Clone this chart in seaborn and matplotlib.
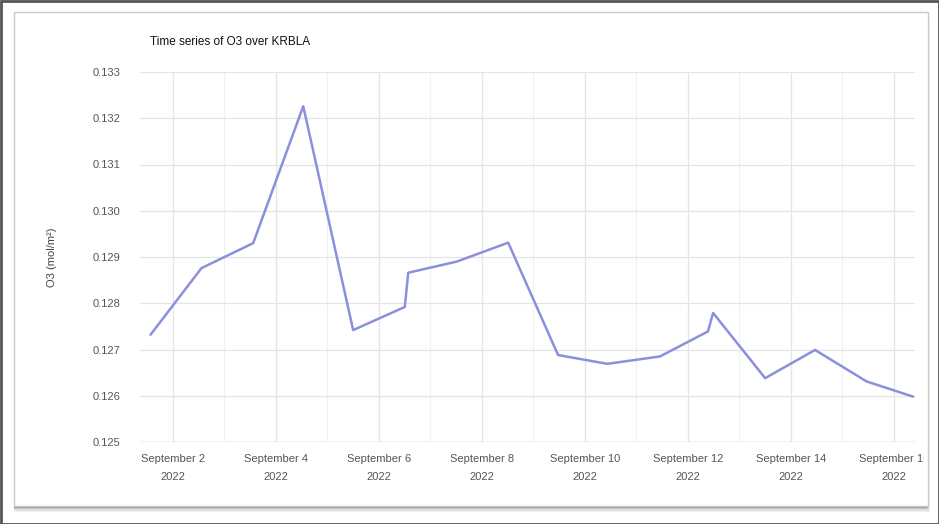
import pandas as pd
import seaborn as sns
import matplotlib.pyplot as plt
import matplotlib.dates as mdates
from matplotlib.ticker import FuncFormatter, MultipleLocator
from matplotlib.patches import Rectangle, FancyBboxPatch
from matplotlib.transforms import Bbox, TransformedBbox

# O3 column over KRBLA, one value per overpass (two on Sept 6 and Sept 12)
times = ['2022-09-01 13:35', '2022-09-02 13:20', '2022-09-03 13:25', '2022-09-04 12:45',
         '2022-09-05 12:00', '2022-09-06 12:05', '2022-09-06 13:40', '2022-09-07 12:15',
         '2022-09-08 12:15', '2022-09-09 11:30', '2022-09-10 10:30', '2022-09-11 11:00',
         '2022-09-12 09:20', '2022-09-12 11:45', '2022-09-13 12:00', '2022-09-14 11:15',
         '2022-09-15 11:15', '2022-09-16 09:00']
o3 = [0.12732, 0.12876, 0.12930, 0.13226,
      0.12742, 0.12792, 0.12866, 0.12890,
      0.12931, 0.12688, 0.12669, 0.12685,
      0.12739, 0.12779, 0.12638, 0.12699,
      0.12631, 0.12598]
title = 'Time series of O3 over KRBLA'
ylabel = 'O3 (mol/m²)'

df = pd.DataFrame({'time': pd.to_datetime(times), 'o3': o3})

sns.set_style('white')
plt.rcParams['font.family'] = ['Liberation Sans', 'DejaVu Sans']

W, H = 939, 524
fig = plt.figure(figsize=(W / 100, H / 100), dpi=100)
fig.patch.set_facecolor('white')

# screenshot frame + card with a soft shadow
for i, a in enumerate([0.05, 0.08, 0.12, 0.18]):
    fig.patches.append(FancyBboxPatch((14 / W, (H - 512 + i * 1.5) / H), (916 - i) / W, 494 / H,
                                      boxstyle='square,pad=0', transform=fig.transFigure,
                                      facecolor='black', alpha=a, edgecolor='none', zorder=0))
fig.patches.append(Rectangle((14 / W, (H - 506) / H), 914 / W, 494 / H, transform=fig.transFigure,
                             facecolor='white', edgecolor='#c8c8c8', lw=1, zorder=1))
fig.patches.append(Rectangle((0.5 / W, 0.5 / H), (W - 1) / W, (H - 1) / H, transform=fig.transFigure,
                             facecolor='none', edgecolor='#555555', lw=2, zorder=5))

ax = fig.add_axes([140 / W, (H - 442) / H, (915 - 140) / W, (442 - 72) / H])
ax.set_facecolor('none')
ax.set_zorder(3)

sns.lineplot(data=df, x='time', y='o3', ax=ax, color='#8a90dc', lw=1.8)

ax.set_ylim(0.125, 0.133)
ax.set_xlim(pd.Timestamp('2022-09-01 08:40'), pd.Timestamp('2022-09-16 09:50'))
ax.yaxis.set_major_locator(MultipleLocator(0.001))
ax.yaxis.set_major_formatter(FuncFormatter(lambda v, p: f'{v:.3f}'))
ax.xaxis.set_major_locator(mdates.DayLocator(bymonthday=list(range(2, 31, 2))))
ax.xaxis.set_minor_locator(mdates.DayLocator())


def fmt_date(x, pos):
    d = mdates.num2date(x)
    return f'{d:%B} {d.day}\n{d.year}'


ax.xaxis.set_major_formatter(FuncFormatter(fmt_date))

ax.grid(True, which='major', color='#e4e4e4', lw=0.9)
ax.grid(True, which='minor', axis='x', color='#f1f1f1', lw=0.8)
ax.axhline(0.125, color='#cccccc', lw=1, zorder=1)
for s in ax.spines.values():
    s.set_visible(False)

ax.tick_params(axis='both', length=0, labelsize=8, labelcolor='#555555')
ax.tick_params(axis='x', pad=9)
ax.tick_params(axis='y', pad=14)
ax.set_xlabel('')
ax.set_ylabel(ylabel, fontsize=8, color='#444444', labelpad=26)

# clip the last date label at the chart edge, as in the reference
clip = TransformedBbox(Bbox([[0, 0], [924 / W, 1]]), fig.transFigure)
for lbl in ax.get_xticklabels():
    lbl.set_linespacing(1.9)
    lbl.set_clip_box(clip)
    lbl.set_clip_on(True)

fig.text(150 / W, 1 - 42 / H, title, fontsize=8.5, color='#111111', va='center', ha='left',
         fontweight='medium', zorder=6)

plt.savefig('out.png', dpi=100)
